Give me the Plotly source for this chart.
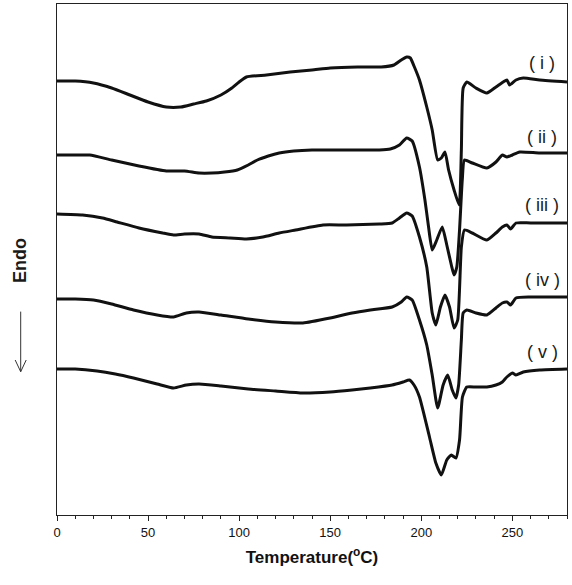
import plotly.graph_objects as go

# Temperature (deg C) and heat flow (arbitrary units, offset curves)
T_i = [0, 10, 20, 30, 40, 50, 60, 68, 75, 82, 90, 96, 100, 104, 115, 128, 140, 150, 165, 178, 185, 189, 192, 194, 196, 199, 203, 206, 209, 211, 213, 215, 218, 220.8, 222, 223, 225, 230, 236, 241, 245, 247, 248.5, 252, 256, 265, 280]
H_i = [434, 434, 432, 427, 420, 413, 408, 408, 411, 414, 420, 427, 433, 438, 440, 443, 445, 447, 448, 448, 450, 455, 458, 457, 449, 435, 408, 385, 355, 357, 363, 345, 325, 310, 365, 427, 433, 427, 422, 428, 433, 435, 430, 435, 437, 435, 433]

T_ii = [0, 10, 18, 30, 45, 60, 70, 78, 85, 92, 99, 105, 110, 116, 122, 130, 140, 160, 177, 183, 188, 192, 195, 199, 202, 204, 206, 208.5, 211.5, 214, 216.5, 218, 219.5, 221, 222.5, 223.7, 228, 236, 241, 244.5, 247, 250, 254, 265, 280]
H_ii = [360, 360, 360, 355, 349, 344, 344, 342, 342, 343, 345, 350, 355, 359, 362, 364, 365, 365, 365, 366, 370, 377, 374, 348, 315, 288, 265, 275, 288, 270, 250, 240, 248, 285, 335, 355, 352, 347, 353, 360, 358, 360, 363, 362, 362]

T_iii = [0, 14, 25, 33, 45, 58, 64, 70, 78, 85, 95, 104, 113, 122, 131, 146, 159, 177, 184, 188, 192, 195, 199, 203, 206, 208, 210.5, 213, 215.5, 218, 220, 222, 223.7, 228, 236, 241, 244.5, 247, 249, 252, 260, 280]
H_iii = [301, 300, 297, 293, 287, 282, 280, 281, 281, 278, 277, 276, 278, 282, 285, 290, 290, 291, 292, 297, 302, 299, 278, 248, 202, 190, 208, 220, 208, 187, 195, 268, 285, 282, 275, 282, 288, 290, 286, 292, 292, 292]

T_iv = [0, 10, 20, 30, 42, 55, 64, 71, 78, 90, 105, 120, 135, 150, 162, 172, 184, 189, 192, 195, 199, 203, 206, 209, 212, 214.5, 217, 219, 220.5, 222, 223, 225, 230, 236, 241, 244.5, 247, 249, 252, 260, 280]
H_iv = [216, 216, 215, 211, 205, 200, 198, 202, 203, 200, 196, 193, 192, 197, 202, 205, 208, 213, 218, 215, 195, 170, 140, 107, 130, 140, 125, 117, 130, 175, 202, 205, 202, 200, 207, 212, 213, 210, 217, 218, 218]

T_v = [0, 10, 22, 32, 42, 55, 64, 71, 78, 90, 105, 120, 135, 150, 162, 172, 184, 190, 193.5, 196, 199, 204.5, 208, 211, 214, 216.5, 219, 221, 222.6, 225, 230, 236, 241, 244.5, 247, 250, 252, 256, 265, 280]
H_v = [146, 146, 144, 141, 137, 131, 127, 130, 131, 129, 126, 124, 122, 123, 125, 127, 130, 133, 135, 130, 118, 78, 52, 40, 55, 60, 57, 75, 118, 128, 128, 128, 130, 133, 138, 142, 140, 143, 145, 146]

curve_labels = ["( i )", "( ii )", "( iii )", "( iv )", "( v )"]
label_y = [452, 378, 310, 235, 163]

x_ticks = [0, 50, 100, 150, 200, 250]

series = [(T_i, H_i), (T_ii, H_ii), (T_iii, H_iii), (T_iv, H_iv), (T_v, H_v)]

fig = go.Figure()
for (t, h), name in zip(series, curve_labels):
    fig.add_trace(go.Scatter(x=t, y=h, mode="lines", name=name,
                             line=dict(color="#111111", width=3, shape="spline", smoothing=0.5),
                             showlegend=False, hoverinfo="skip"))

for name, yv in zip(curve_labels, label_y):
    fig.add_annotation(x=0.951, y=yv / 511.0, xref="paper", yref="paper", text=name, showarrow=False,
                       xanchor="center", yanchor="middle",
                       font=dict(family="Liberation Sans, Arial, sans-serif", size=18, color="#1a1a1a"))

# Endo label and arrow
fig.add_annotation(x=-0.0725, y=0.497, xref="paper", yref="paper", text="<b>Endo</b>", textangle=-90,
                   showarrow=False, xanchor="center", yanchor="middle",
                   font=dict(family="Liberation Sans, Arial, sans-serif", size=18, color="#1a1a1a"))
ax_x = -0.0712
fig.add_shape(type="line", xref="paper", yref="paper", x0=ax_x, x1=ax_x, y0=0.398, y1=0.2804,
              line=dict(color="#333333", width=1))
fig.add_shape(type="line", xref="paper", yref="paper", x0=ax_x - 0.0108, x1=ax_x, y0=0.3033, y1=0.2804,
              line=dict(color="#333333", width=1))
fig.add_shape(type="line", xref="paper", yref="paper", x0=ax_x + 0.0108, x1=ax_x, y0=0.3033, y1=0.2804,
              line=dict(color="#333333", width=1))

fig.update_layout(
    width=572, height=585,
    margin=dict(l=57, r=5, t=4, b=70),
    plot_bgcolor="white", paper_bgcolor="white",
    font=dict(family="Liberation Sans, Arial, sans-serif", size=13, color="#111111"),
)
fig.update_xaxes(range=[0, 280], tickvals=x_ticks, ticks="outside", ticklen=5, tickwidth=1,
                 tickcolor="#222222", showline=True, linecolor="#222222", linewidth=1, mirror=True,
                 showgrid=False, zeroline=False,
                 minor=dict(dtick=10, ticks="outside", ticklen=3, tickcolor="#222222", showgrid=False),
                 tickfont=dict(size=13, color="#111111"),
                 title=dict(text="<b>Temperature(<sup>o</sup>C)</b>", font=dict(size=17, color="#111111"), standoff=12))
fig.update_yaxes(range=[0, 511], showticklabels=False, ticks="", showline=True, linecolor="#222222",
                 linewidth=1, mirror=True, showgrid=False, zeroline=False)

fig.write_html("out.html", config={"displayModeBar": False},
               post_script="document.body.style.margin='0';document.body.style.padding='0';"
                           "document.documentElement.style.overflow='hidden';")
